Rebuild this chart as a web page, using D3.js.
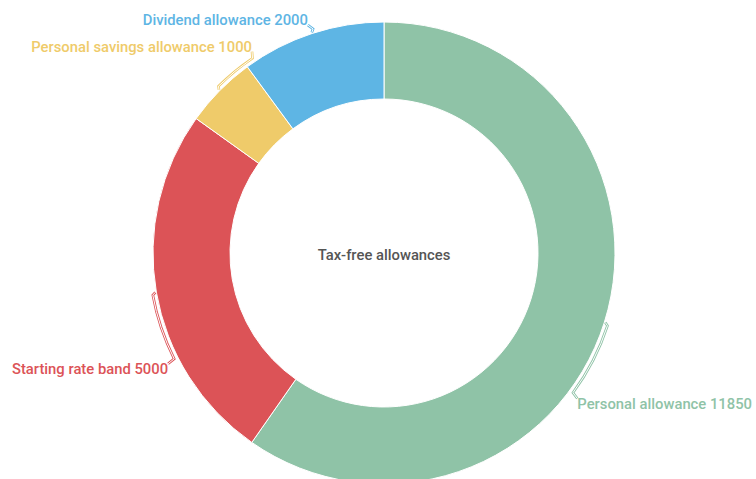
<!DOCTYPE html>
<html>
<head>
<meta charset="utf-8">
<script src="https://cdn.jsdelivr.net/npm/d3@7"></script>
<style>
  html, body { margin: 0; padding: 0; background: #fff; }
  svg { display: block; font-family: Roboto, "Noto Sans", sans-serif; }
</style>
</head>
<body>
<svg id="chart" width="756" height="479"></svg>
<script>
// data
var categories = ["Personal allowance", "Starting rate band", "Personal savings allowance", "Dividend allowance"];
var values = [11850, 5000, 1000, 2000];
var colors = ["#8fc3a7", "#dc5357", "#efcb6a", "#5eb5e4"];
var title = "Tax-free allowances";

// label placement (degrees, clockwise from top) chosen so labels stay in view
var labelAngles = [127.9, 241.8, 327.4, 341.9];

var svg = d3.select("#chart"),
  width = +svg.attr("width"),
  height = +svg.attr("height");

var cx = 384, cy = 253,
  outerR = 231, innerR = 154, labelR = 245;

var g = svg.append("g").attr("transform", "translate(" + cx + "," + cy + ")");

var pie = d3.pie().sort(null).value(function (d) { return d; });
var arcs = pie(values);

var arc = d3.arc().innerRadius(innerR).outerRadius(outerR);

g.selectAll("path.slice")
  .data(arcs)
  .enter().append("path")
  .attr("class", "slice")
  .attr("d", arc)
  .attr("fill", function (d, i) { return colors[i]; })
  .attr("stroke", "#fff")
  .attr("stroke-width", 1);

function polar(r, a) {
  return [r * Math.sin(a), -r * Math.cos(a)];
}
var rad = function (deg) { return deg * Math.PI / 180; };
var isBottom = function (i) { return labelAngles[i] > 90 && labelAngles[i] < 270; };

// bracket connectors
var connector = function (d, i) {
  var mid = (d.startAngle + d.endAngle) / 2,
    la = rad(labelAngles[i]),
    dir = la >= mid ? 1 : -1,
    p = d3.path(),
    a0 = polar(outerR + 1, mid),
    a1 = polar(outerR + 4, mid + dir * 0.01),
    endA = Math.abs(la - mid) > 0.03 ? la - dir * 0.025 : mid + dir * 0.01,
    tip = polar(labelR, la);
  p.moveTo(a0[0], a0[1]);
  p.lineTo(a1[0], a1[1]);
  if (Math.abs(endA - mid) > 0.02) {
    p.arc(0, 0, outerR + 4, mid + dir * 0.01 - Math.PI / 2, endA - Math.PI / 2, dir < 0);
  }
  p.lineTo(tip[0], tip[1] + (isBottom(i) ? -5 : 5));
  return p.toString();
};

var links = g.selectAll("g.link")
  .data(arcs)
  .enter().append("g")
  .attr("class", "link");
links.append("path")
  .attr("d", connector)
  .attr("fill", "none")
  .attr("stroke", function (d, i) { return colors[i]; })
  .attr("stroke-width", 2.6);
links.append("path")
  .attr("d", connector)
  .attr("fill", "none")
  .attr("stroke", "#fff")
  .attr("stroke-width", 1);

// labels
g.selectAll("text.label")
  .data(arcs)
  .enter().append("text")
  .attr("class", "label")
  .attr("transform", function (d, i) {
    var p = polar(labelR, rad(labelAngles[i]));
    return "translate(" + p[0] + "," + p[1] + ")";
  })
  .attr("text-anchor", function (d, i) { return labelAngles[i] < 180 ? "start" : "end"; })
  .attr("dy", "0.35em")
  .attr("fill", function (d, i) { return colors[i]; })
  .style("font-size", "14.8px")
  .style("font-weight", 500)
  .text(function (d, i) { return categories[i] + " " + values[i]; });

g.append("text")
  .attr("text-anchor", "middle")
  .attr("dy", "0.35em")
  .attr("y", 2)
  .attr("fill", "#555")
  .style("font-size", "14.8px")
  .style("font-weight", 500)
  .text(title);
</script>
</body>
</html>
